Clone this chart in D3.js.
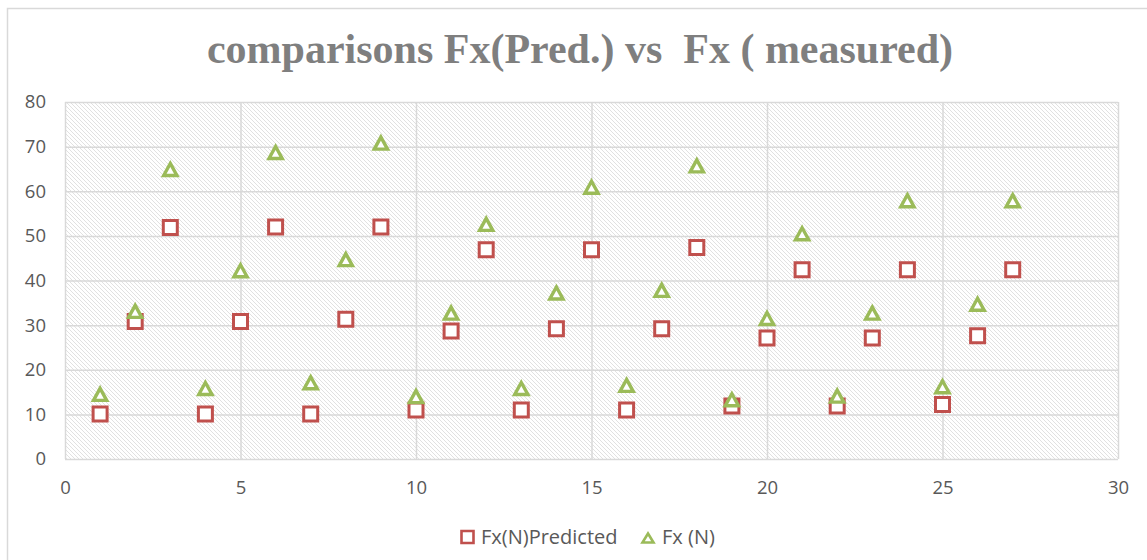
<!DOCTYPE html>
<html>
<head>
<meta charset="utf-8">
<script src="https://cdn.jsdelivr.net/npm/d3@7"></script>
<style>
  html, body { margin: 0; padding: 0; background: #ffffff; }
  svg { display: block; }
</style>
</head>
<body>
<svg id="chart" width="1147" height="560"></svg>
<script>
// Sample index (1..27)
const samples = d3.range(1, 28);
// Predicted Fx (N)
const fxPredicted = [10.1, 30.8, 51.9, 10.1, 30.8, 52.0, 10.1, 31.3, 52.0,
                     11.0, 28.7, 46.9, 11.0, 29.2, 46.9, 11.0, 29.2, 47.4,
                     11.9, 27.1, 42.4, 11.9, 27.1, 42.4, 12.2, 27.6, 42.4];
// Measured Fx (N)
const fxMeasured = [14.6, 33.2, 65.0, 15.9, 42.3, 68.8, 17.2, 44.8, 70.9,
                    14.1, 32.8, 52.7, 15.9, 37.3, 61.0, 16.6, 37.9, 65.8,
                    13.4, 31.6, 50.6, 14.2, 32.8, 58.0, 16.3, 34.8, 58.0];
const xTicks = [0, 5, 10, 15, 20, 25, 30];
const yTicks = [0, 10, 20, 30, 40, 50, 60, 70, 80];
const seriesNames = ["Fx(N)Predicted", "Fx (N)"];
const titleText = "comparisons Fx(Pred.) vs\u00a0 Fx ( measured)";

const svg = d3.select("#chart");
const W = 1147, H = 560;
const plot = { left: 65, right: 1118, top: 102, bottom: 459 };

const x = d3.scaleLinear().domain([0, 30]).range([plot.left, plot.right]);
const y = d3.scaleLinear().domain([0, 80]).range([plot.bottom, plot.top]);

const red = "#C0504D", green = "#9BBB59", grid = "#d9d9d9", label = "#595959";
const sans = "'Open Sans', sans-serif";

// chart frame
svg.append("rect")
  .attr("x", 7.5).attr("y", 8.5)
  .attr("width", W + 20).attr("height", H + 20)
  .attr("fill", "#fff").attr("stroke", "#d9d9d9").attr("stroke-width", 1.5);

// diagonal hatch for the plot area
const defs = svg.append("defs");
const pat = defs.append("pattern")
  .attr("id", "hatch").attr("patternUnits", "userSpaceOnUse")
  .attr("width", 4).attr("height", 4);
pat.append("rect").attr("width", 4).attr("height", 4).attr("fill", "#fff");
pat.append("path")
  .attr("d", "M-1,-1 L5,5 M-1,3 L1,5 M3,-1 L5,1")
  .attr("stroke", "#e1e1e1").attr("stroke-width", 1);

svg.append("rect")
  .attr("x", plot.left).attr("y", plot.top)
  .attr("width", plot.right - plot.left).attr("height", plot.bottom - plot.top)
  .attr("fill", "url(#hatch)");

// gridlines
const gy = svg.append("g")
  .attr("transform", `translate(${plot.left},0)`)
  .call(d3.axisLeft(y).tickValues(yTicks).tickSize(-(plot.right - plot.left)).tickFormat(""));
const gx = svg.append("g")
  .attr("transform", `translate(0,${plot.bottom})`)
  .call(d3.axisBottom(x).tickValues(xTicks).tickSize(-(plot.bottom - plot.top)).tickFormat(""));
[gx, gy].forEach(g => {
  g.select(".domain").remove();
  g.selectAll(".tick line").attr("stroke", grid).attr("stroke-width", 1.5);
});

// tick labels
const yAxis = svg.append("g")
  .attr("transform", `translate(${plot.left - 19},0)`)
  .call(d3.axisLeft(y).tickValues(yTicks).tickSize(0).tickPadding(0));
yAxis.select(".domain").remove();
yAxis.selectAll("text")
  .attr("fill", label).attr("font-family", sans).attr("font-size", 18.5);

const xAxis = svg.append("g")
  .attr("transform", `translate(0,${plot.bottom + 22})`)
  .call(d3.axisBottom(x).tickValues(xTicks).tickSize(0).tickPadding(0));
xAxis.select(".domain").remove();
xAxis.selectAll("text")
  .attr("fill", label).attr("font-family", sans).attr("font-size", 18.5);

// marker shapes
const squarePath = s => `M${-s},${-s}H${s}V${s}H${-s}Z`;
const trianglePath = (w, h) => `M0,${-h}L${w},${h}L${-w},${h}Z`;

// predicted: hollow squares
svg.append("g").selectAll("path")
  .data(samples.map((s, i) => ({ s, v: fxPredicted[i] })))
  .join("path")
  .attr("transform", d => `translate(${x(d.s)},${y(d.v)})`)
  .attr("d", squarePath(7))
  .attr("fill", "#fff").attr("stroke", red).attr("stroke-width", 3);

// measured: hollow triangles
svg.append("g").selectAll("path")
  .data(samples.map((s, i) => ({ s, v: fxMeasured[i] })))
  .join("path")
  .attr("transform", d => `translate(${x(d.s)},${y(d.v) + 0.5})`)
  .attr("d", trianglePath(6.6, 6))
  .attr("fill", "#fff").attr("stroke", green).attr("stroke-width", 3.4)
  .attr("stroke-linejoin", "miter");

// title
svg.append("text")
  .attr("x", 580).attr("y", 63)
  .attr("text-anchor", "middle")
  .attr("font-family", "'Liberation Serif', serif")
  .attr("font-weight", "bold")
  .attr("font-size", 42)
  .attr("fill", "#7f7f7f")
  .text(titleText);

// legend
const legend = svg.append("g").attr("transform", "translate(0,537)");
legend.append("path")
  .attr("transform", "translate(467.5,0)")
  .attr("d", squarePath(6))
  .attr("fill", "#fff").attr("stroke", red).attr("stroke-width", 2.6);
legend.append("text")
  .attr("x", 481).attr("y", 0).attr("dy", "0.35em")
  .attr("fill", label).attr("font-family", sans).attr("font-size", 20)
  .text(seriesNames[0]);
legend.append("path")
  .attr("transform", "translate(648,1)")
  .attr("d", trianglePath(5.5, 4.5))
  .attr("fill", "#fff").attr("stroke", green).attr("stroke-width", 2.6);
legend.append("text")
  .attr("x", 662).attr("y", 0).attr("dy", "0.35em")
  .attr("fill", label).attr("font-family", sans).attr("font-size", 20)
  .text(seriesNames[1]);
</script>
</body>
</html>
